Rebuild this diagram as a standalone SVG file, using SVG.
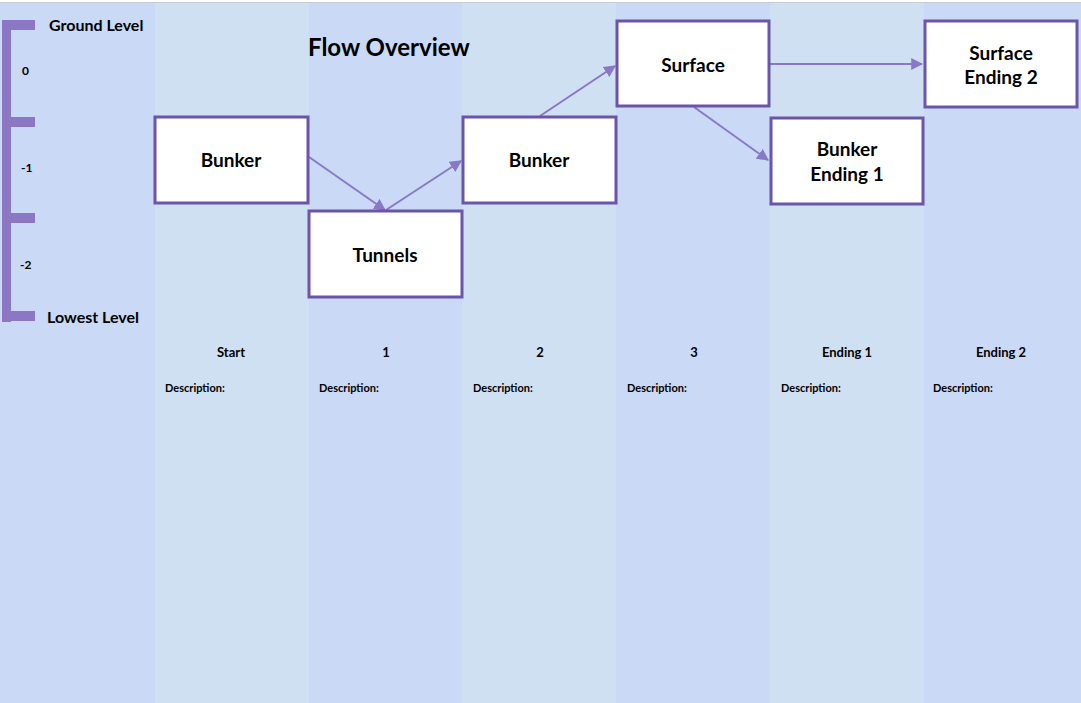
<svg xmlns="http://www.w3.org/2000/svg" width="1081" height="703" viewBox="0 0 1081 703">
  <defs>
    <marker id="arrow" viewBox="0 0 10 10" refX="9" refY="5" markerWidth="12" markerHeight="12" markerUnits="userSpaceOnUse" orient="auto">
      <path d="M0,0 L10,5 L0,10 z" fill="#8a78c6"/>
    </marker>
    <style>
      .colA { fill: #c9d9f6; }
      .colB { fill: #cfe0f3; }
      .scale { fill: #8b77c3; }
      .box { fill: #ffffff; stroke: #6a55aa; stroke-width: 3; }
      .edge { stroke: #8a78c6; stroke-width: 2; fill: none; marker-end: url(#arrow); }
      text { font-family: Lato, "Open Sans", "Liberation Sans", sans-serif; font-weight: bold; fill: #000; }
      .node { font-size: 19px; text-anchor: middle; }
      .title { font-size: 24px; }
      .level { font-size: 16px; }
      .tick { font-size: 12px; }
      .col { font-size: 13px; text-anchor: middle; }
      .desc { font-size: 11px; }
    </style>
  </defs>

  <!-- column bands -->
  <g id="columns">
    <rect class="colA" x="0" y="0" width="155" height="703"/>
    <rect class="colB" x="155" y="0" width="154" height="703"/>
    <rect class="colA" x="309" y="0" width="153" height="703"/>
    <rect class="colB" x="462" y="0" width="154" height="703"/>
    <rect class="colA" x="616" y="0" width="154" height="703"/>
    <rect class="colB" x="770" y="0" width="154" height="703"/>
    <rect class="colA" x="924" y="0" width="157" height="703"/>
    <rect x="0" y="0" width="1081" height="2" fill="#ffffff"/>
    <rect x="0" y="2" width="1081" height="1" fill="#c8ccd4"/>
  </g>

  <!-- depth scale -->
  <g id="scale">
    <rect class="scale" x="2" y="20" width="9" height="302"/>
    <rect class="scale" x="2" y="20" width="33" height="10"/>
    <rect class="scale" x="2" y="117" width="33" height="10"/>
    <rect class="scale" x="2" y="213" width="33" height="10"/>
    <rect class="scale" x="2" y="311" width="33" height="10"/>
    <text class="level" x="49" y="31">Ground Level</text>
    <text class="level" x="47" y="323">Lowest Level</text>
    <text class="tick" x="22" y="75">0</text>
    <text class="tick" x="21" y="172">-1</text>
    <text class="tick" x="20" y="269">-2</text>
  </g>

  <text class="title" x="308" y="56">Flow Overview</text>

  <!-- connectors -->
  <g id="connectors">
    <line class="edge" x1="309" y1="157" x2="385" y2="210"/>
    <line class="edge" x1="386" y1="210" x2="461" y2="161"/>
    <line class="edge" x1="540" y1="116" x2="615" y2="66"/>
    <line class="edge" x1="770" y1="64" x2="922" y2="64"/>
    <line class="edge" x1="694" y1="107" x2="768" y2="160"/>
  </g>

  <!-- nodes -->
  <g id="bunker-start">
    <rect class="box" x="155" y="117" width="153" height="86"/>
    <text class="node" x="231" y="167">Bunker</text>
  </g>
  <g id="tunnels">
    <rect class="box" x="309" y="211" width="153" height="86"/>
    <text class="node" x="385" y="262">Tunnels</text>
  </g>
  <g id="bunker-2">
    <rect class="box" x="463" y="117" width="153" height="86"/>
    <text class="node" x="539" y="167">Bunker</text>
  </g>
  <g id="surface">
    <rect class="box" x="617" y="21" width="152" height="85"/>
    <text class="node" x="693" y="72">Surface</text>
  </g>
  <g id="bunker-ending-1">
    <rect class="box" x="771" y="118" width="152" height="86"/>
    <text class="node" x="847" y="156">Bunker</text>
    <text class="node" x="847" y="181">Ending 1</text>
  </g>
  <g id="surface-ending-2">
    <rect class="box" x="925" y="21" width="152" height="86"/>
    <text class="node" x="1001" y="60">Surface</text>
    <text class="node" x="1001" y="84">Ending 2</text>
  </g>

  <!-- column captions -->
  <g id="captions">
    <text class="col" x="231" y="357">Start</text>
    <text class="col" x="386" y="357">1</text>
    <text class="col" x="540" y="357">2</text>
    <text class="col" x="694" y="357">3</text>
    <text class="col" x="847" y="357">Ending 1</text>
    <text class="col" x="1001" y="357">Ending 2</text>
    <text class="desc" x="165" y="392">Description:</text>
    <text class="desc" x="319" y="392">Description:</text>
    <text class="desc" x="473" y="392">Description:</text>
    <text class="desc" x="627" y="392">Description:</text>
    <text class="desc" x="781" y="392">Description:</text>
    <text class="desc" x="933" y="392">Description:</text>
  </g>
</svg>
